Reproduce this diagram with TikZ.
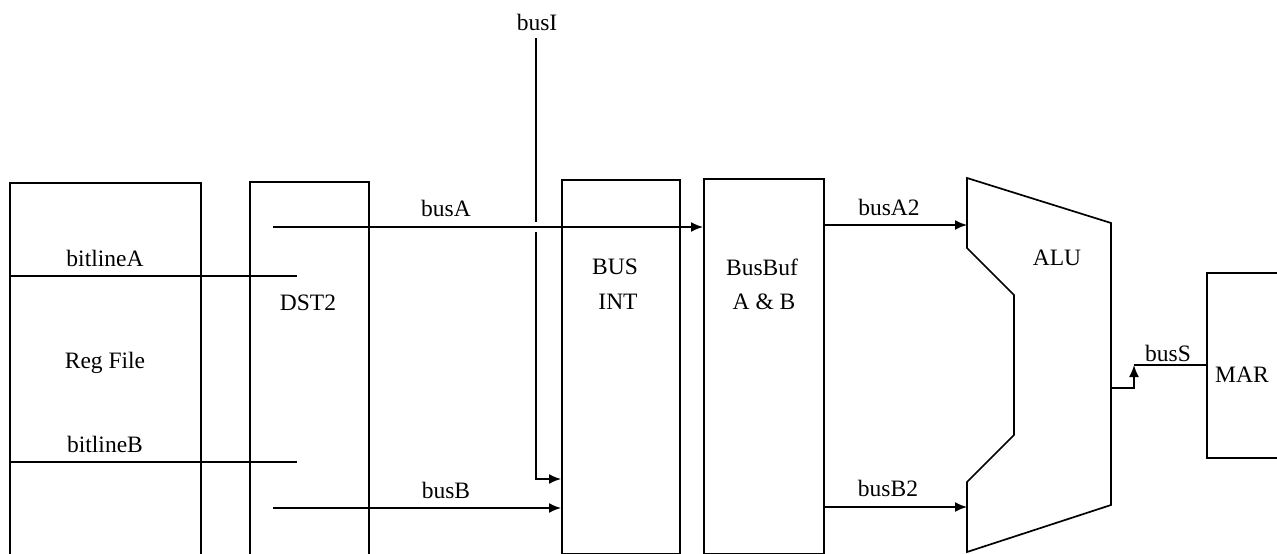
\documentclass[tikz,border=0pt]{standalone}
\usepackage{fontspec}
\setmainfont{Liberation Serif}
\usetikzlibrary{arrows.meta}
\begin{document}
\begin{tikzpicture}[x=1pt,y=-1pt, line width=1.7pt,
  box/.style={draw, rectangle, inner sep=0pt, anchor=north west},
  lbl/.style={font=\fontsize{23.5}{26}\selectfont, inner sep=0pt},
  arr/.style={-{Latex[length=12pt,width=10pt]}},
]
\useasboundingbox (0,0) rectangle (1277,554);
\clip (0,0) rectangle (1277,554);

% boxes
\node[box, minimum width=191pt, minimum height=400pt] (regfile) at (9,182) {};
\node[box, minimum width=119pt, minimum height=400pt] (dst) at (249,181) {};
\node[box, minimum width=118pt, minimum height=374pt] (bint) at (561,179) {};
\node[box, minimum width=120pt, minimum height=375pt] (bbuf) at (703,178) {};
\node[box, minimum width=100pt, minimum height=185pt] (mar) at (1206,272) {};

% ALU outline
\coordinate (aluA) at (967,178);
\coordinate (aluB) at (1111,223);
\coordinate (aluC) at (1111,505);
\coordinate (aluD) at (967,552);
\coordinate (aluE) at (967,482);
\coordinate (aluF) at (1014,435);
\coordinate (aluG) at (1014,295);
\coordinate (aluH) at (967,248);
\draw[line join=miter] (aluA) -- (aluB) -- (aluC) -- (aluD) -- (aluE) -- (aluF) -- (aluG) -- (aluH) -- cycle;

% texts
\node[lbl] (tRF) at (105,363) {Reg File};
\node[lbl] (tbA) at (105,258) {bitlineA};
\node[lbl] (tbB) at (105,444) {bitlineB};
\node[lbl] (tDST) at (308,303) {DST2};
\node[lbl] (tBUS) at (615,267) {BUS};
\node[lbl] (tINT) at (618,302) {INT};
\node[lbl] (tBB1) at (762,267) {BusBuf};
\node[lbl] (tBB2) at (764,302) {A \& B};
\node[lbl] (tALU) at (1057,258) {ALU};
\node[lbl] (tMAR) at (1242,375) {MAR};
\node[lbl] (tbusI) at (537,22) {busI};
\node[lbl] (tbusA) at (446,208) {busA};
\node[lbl] (tbusB) at (446,490) {busB};
\node[lbl] (tbusA2) at (889,207) {busA2};
\node[lbl] (tbusB2) at (888,488) {busB2};
\node[lbl] (tbusS) at (1168,353) {busS};

% bit lines
\coordinate (bAend) at (297,276);
\coordinate (bBend) at (297,462);
\draw (regfile.west |- bAend) -- (bAend);
\draw (regfile.west |- bBend) -- (bBend);

% busA, busB
\coordinate (busAin) at (273,227);
\coordinate (busBin) at (273,508);
\draw[arr] (busAin) -- (busAin -| bbuf.west);
\draw[arr] (busBin) -- (busBin -| bint.west);

% busI
\coordinate (busItop) at (536,38);
\coordinate (gapT) at (536,222);
\coordinate (gapB) at (536,232);
\coordinate (busIbend) at (536,479);
\draw (busItop) -- (gapT);
\draw[arr] (gapB) -- (busIbend) -- (busIbend -| bint.west);

% busA2, busB2
\coordinate (aluInA) at (967,225);
\coordinate (aluInB) at (967,507);
\draw[arr] (bbuf.east |- aluInA) -- (aluInA);
\draw[arr] (bbuf.east |- aluInB) -- (aluInB);

% busS
\coordinate (aluOut) at (1111,388);
\coordinate (sStep) at (1134,388);
\coordinate (sUp) at (1134,365);
\draw[arr] (aluOut) -- (sStep) -- (sUp);
\draw (sUp) -- (sUp -| mar.west);
\end{tikzpicture}
\end{document}
